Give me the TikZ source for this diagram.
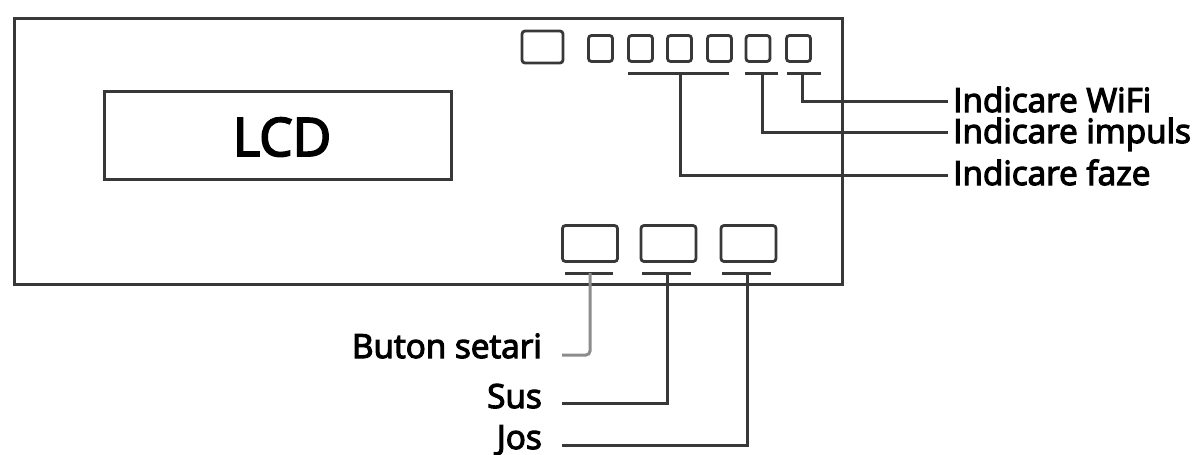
\documentclass[tikz,border=0pt]{standalone}
\usepackage{fontspec}
\setmainfont{Open Sans}
\newfontfamily\lblfont[FakeBold=3.5]{Open Sans}
\begin{document}
\begin{tikzpicture}[x=1pt,y=-1pt,
  frame/.style={draw=black!78, line width=3pt, inner sep=0pt, outer sep=0pt},
  led/.style={draw=black!78, line width=2.8pt, rounded corners=3pt, minimum width=24pt, minimum height=26pt, inner sep=0pt, outer sep=0pt},
  btn/.style={draw=black!78, line width=2.8pt, rounded corners=3pt, minimum width=55pt, minimum height=36pt, inner sep=0pt, outer sep=0pt},
  conn/.style={draw=black!78, line width=3pt},
  connlight/.style={draw=black!45, line width=3pt},
  lbl/.style={font=\lblfont\fontsize{33.3}{35}\selectfont, inner sep=0pt, text=black}]
\useasboundingbox (0,0) rectangle (1197,455);
% device outline
\node[frame, minimum width=828pt, minimum height=266pt] (dev) at (428,151) {};
% LCD
\node[frame, minimum width=347pt, minimum height=88pt] (lcd) at (277.5,135) {};
\node[font=\lblfont\fontsize{53}{58}\selectfont, inner sep=0pt, anchor=base] (lcdtxt) at (282,156) {LCD};
% top indicators
\node[led, minimum width=41pt, minimum height=32pt] (l0) at (542.5,47) {};
\node[led] (l1) at (600.5,48.5) {};
\node[led] (l2) at (640.5,48.5) {};
\node[led] (l3) at (679.5,48.5) {};
\node[led] (l4) at (719.5,48.5) {};
\node[led] (l5) at (758,48.5) {};
\node[led] (l6) at (798.5,48.5) {};
% bars under indicators
\coordinate (fa) at (628,73); \coordinate (fb) at (729,73);
\coordinate (ia) at (745,73); \coordinate (ib) at (778,73);
\coordinate (wa) at (787,73); \coordinate (wb) at (821,73);
\draw[conn] (fa) -- (fb);
\draw[conn] (ia) -- (ib);
\draw[conn] (wa) -- (wb);
% right labels
\node[lbl, anchor=base west] (twifi) at (953,112) {Indicare WiFi};
\node[lbl, anchor=base west] (timp) at (953,143) {Indicare impuls};
\node[lbl, anchor=base west] (tfaz) at (953,185) {Indicare faze};
\coordinate (wstem) at (802,73);
\coordinate (istem) at (762,73);
\coordinate (fstem) at (680,73);
\draw[conn] (wstem) |- ([xshift=-5pt]twifi.west |- 0,101);
\draw[conn] (istem) |- ([xshift=-5pt]timp.west |- 0,132);
\draw[conn] (fstem) |- ([xshift=-5pt]tfaz.west |- 0,175);
% bottom buttons
\node[btn] (b1) at (590,243.5) {};
\node[btn] (b2) at (668.5,243.5) {};
\node[btn] (b3) at (748.5,243.5) {};
\coordinate (b1a) at (565,273); \coordinate (b1b) at (613,273);
\coordinate (b2a) at (642,273); \coordinate (b2b) at (691,273);
\coordinate (b3a) at (722,273); \coordinate (b3b) at (771,273);
\draw[conn] (b1a) -- (b1b);
\draw[conn] (b2a) -- (b2b);
\draw[conn] (b3a) -- (b3b);
% bottom labels
\node[lbl, anchor=base east] (tbut) at (542,358) {Buton setari};
\node[lbl, anchor=base east] (tsus) at (542,408) {Sus};
\node[lbl, anchor=base east] (tjos) at (542,449) {Jos};
\coordinate (s1) at (590,273);
\coordinate (s2) at (667,273);
\coordinate (s3) at (747,273);
\draw[connlight, rounded corners=4pt] (s1) |- (562,355);
\draw[conn] (s2) |- (562,403);
\draw[conn] (s3) |- (562,445);
\end{tikzpicture}
\end{document}
